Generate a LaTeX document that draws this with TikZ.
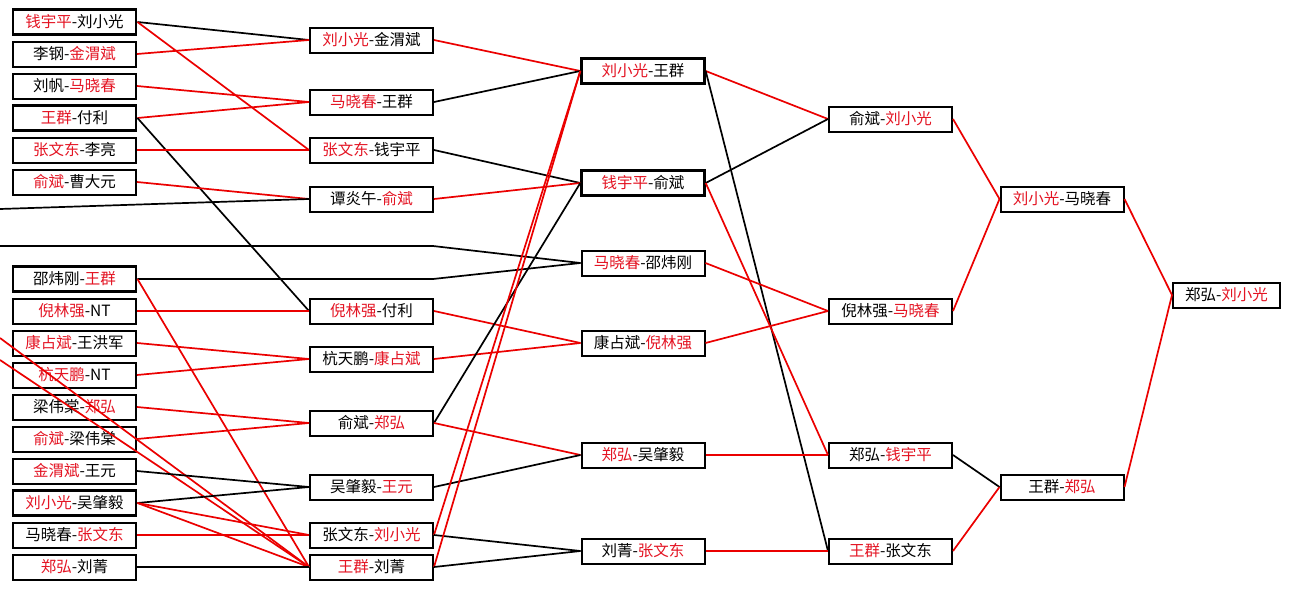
\documentclass[tikz,border=0pt]{standalone}
\usepackage{fontspec}
\setmainfont{Noto Sans CJK SC}
\definecolor{lred}{RGB}{235,0,0}
\definecolor{tred}{RGB}{228,20,35}
\newcommand{\R}[1]{\textcolor{tred}{#1}}
\tikzset{
  box/.style={draw, line width=2pt, minimum width=123pt, minimum height=25pt, inner sep=0pt, font=\fontsize{15.5}{15.5}\selectfont},
  tbox/.style={box, line width=2.9pt},
  rl/.style={draw=lred, line width=1.7pt},
  bl/.style={draw=black, line width=1.7pt},
}
\begin{document}
\begin{tikzpicture}[x=1pt,y=-1pt]
\fill[white] (0,0) rectangle (1290,589);
\useasboundingbox (0,0) rectangle (1290,589);
% column 1
\node[tbox] (a1) at (74.5,22) {\R{钱宇平}-刘小光};
\node[box] (a2) at (74.5,54) {李钢-\R{金渭斌}};
\node[box] (a3) at (74.5,86) {刘帆-\R{马晓春}};
\node[tbox] (a4) at (74.5,118) {\R{王群}-付利};
\node[box] (a5) at (74.5,150) {\R{张文东}-李亮};
\node[box] (a6) at (74.5,182) {\R{俞斌}-曹大元};
\node[tbox] (a7) at (74.5,279) {邵炜刚-\R{王群}};
\node[box] (a8) at (74.5,311) {\R{倪林强}-NT};
\node[box] (a9) at (74.5,343) {\R{康占斌}-王洪军};
\node[box] (a10) at (74.5,375) {\R{杭天鹏}-NT};
\node[box] (a11) at (74.5,407) {梁伟棠-\R{郑弘}};
\node[box] (a12) at (74.5,439) {\R{俞斌}-梁伟棠};
\node[box] (a13) at (74.5,471) {\R{金渭斌}-王元};
\node[tbox] (a14) at (74.5,503) {\R{刘小光}-吴肇毅};
\node[box] (a15) at (74.5,535) {马晓春-\R{张文东}};
\node[box] (a16) at (74.5,567) {\R{郑弘}-刘菁};
% column 2
\node[box] (b1) at (371.5,40) {\R{刘小光}-金渭斌};
\node[box] (b2) at (371.5,102) {\R{马晓春}-王群};
\node[box] (b3) at (371.5,150) {\R{张文东}-钱宇平};
\node[box] (b4) at (371.5,199) {谭炎午-\R{俞斌}};
\node[box] (b5) at (371.5,311) {\R{倪林强}-付利};
\node[box] (b6) at (371.5,359) {杭天鹏-\R{康占斌}};
\node[box] (b7) at (371.5,423) {俞斌-\R{郑弘}};
\node[box] (b8) at (371.5,487) {吴肇毅-\R{王元}};
\node[box] (b9) at (371.5,535) {张文东-\R{刘小光}};
\node[box] (b10) at (371.5,567) {\R{王群}-刘菁};
% column 3
\node[box, line width=2.4pt] (c1) at (643,71) {\R{刘小光}-王群};
\node[box, line width=2.4pt] (c2) at (643,183) {\R{钱宇平}-俞斌};
\node[box] (c3) at (643,263) {\R{马晓春}-邵炜刚};
\node[box] (c4) at (643,343) {康占斌-\R{倪林强}};
\node[box] (c5) at (643,455) {\R{郑弘}-吴肇毅};
\node[box] (c6) at (643,551) {刘菁-\R{张文东}};
% column 4
\node[box] (d1) at (890.5,119) {俞斌-\R{刘小光}};
\node[box] (d2) at (890.5,311) {倪林强-\R{马晓春}};
\node[box] (d3) at (890.5,455) {郑弘-\R{钱宇平}};
\node[box] (d4) at (890.5,551) {\R{王群}-张文东};
% column 5
\node[box] (e1) at (1062,199) {\R{刘小光}-马晓春};
\node[box] (e2) at (1062,487) {王群-\R{郑弘}};
% final
\node[box, minimum width=107pt] (f1) at (1226.5,295) {郑弘-\R{刘小光}};
% free ends at the left edge
\coordinate (l1) at (0,209);
\coordinate (l2) at (0,246);
\coordinate (l3) at (0,338);
\coordinate (l4) at (0,360);
\coordinate (k1) at (433,246);
\coordinate (k2) at (433,279);
% column 1 -> column 2
\draw[bl] (a1.east) -- (b1.west);
\draw[rl] (a1.east) -- (b3.west);
\draw[rl] (a2.east) -- (b1.west);
\draw[rl] (a3.east) -- (b2.west);
\draw[rl] (a4.east) -- (b2.west);
\draw[bl] (a4.east) -- (b5.west);
\draw[rl] (a5.east) -- (b3.west);
\draw[rl] (a6.east) -- (b4.west);
\draw[bl] (l1) -- (b4.west);
\draw[bl] (l2) -- (k1) -- (c3.west);
\draw[bl] (a7.east) -- (k2) -- (c3.west);
\draw[rl] (a7.east) -- (b10.west);
\draw[rl] (a8.east) -- (b5.west);
\draw[rl] (a9.east) -- (b6.west);
\draw[rl] (a10.east) -- (b6.west);
\draw[rl] (l3) -- (b10.west);
\draw[rl] (l4) -- (b10.west);
\draw[rl] (a11.east) -- (b7.west);
\draw[rl] (a12.east) -- (b7.west);
\draw[bl] (a13.east) -- (b8.west);
\draw[bl] (a14.east) -- (b8.west);
\draw[rl] (a14.east) -- (b9.west);
\draw[rl] (a14.east) -- (b10.west);
\draw[rl] (a15.east) -- (b9.west);
\draw[bl] (a16.east) -- (b10.west);
% column 2 -> column 3
\draw[rl] (b1.east) -- (c1.west);
\draw[bl] (b2.east) -- (c1.west);
\draw[bl] (b3.east) -- (c2.west);
\draw[rl] (b4.east) -- (c2.west);
\draw[rl] (b5.east) -- (c4.west);
\draw[rl] (b6.east) -- (c4.west);
\draw[bl] (b7.east) -- (c2.west);
\draw[rl] (b7.east) -- (c5.west);
\draw[bl] (b8.east) -- (c5.west);
\draw[rl] (b9.east) -- (c1.west);
\draw[bl] (b9.east) -- (c6.west);
\draw[rl] (b10.east) -- (c1.west);
\draw[bl] (b10.east) -- (c6.west);
% column 3 -> column 4
\draw[rl] (c1.east) -- (d1.west);
\draw[bl] (c2.east) -- (d1.west);
\draw[bl] (c1.east) -- (d4.west);
\draw[rl] (c2.east) -- (d3.west);
\draw[rl] (c3.east) -- (d2.west);
\draw[rl] (c4.east) -- (d2.west);
\draw[rl] (c5.east) -- (d3.west);
\draw[rl] (c6.east) -- (d4.west);
% column 4 -> column 5
\draw[rl] (d1.east) -- (e1.west);
\draw[rl] (d2.east) -- (e1.west);
\draw[bl] (d3.east) -- (e2.west);
\draw[rl] (d4.east) -- (e2.west);
% column 5 -> final
\draw[rl] (e1.east) -- (f1.west);
\draw[rl] (e2.east) -- (f1.west);
\end{tikzpicture}
\end{document}
